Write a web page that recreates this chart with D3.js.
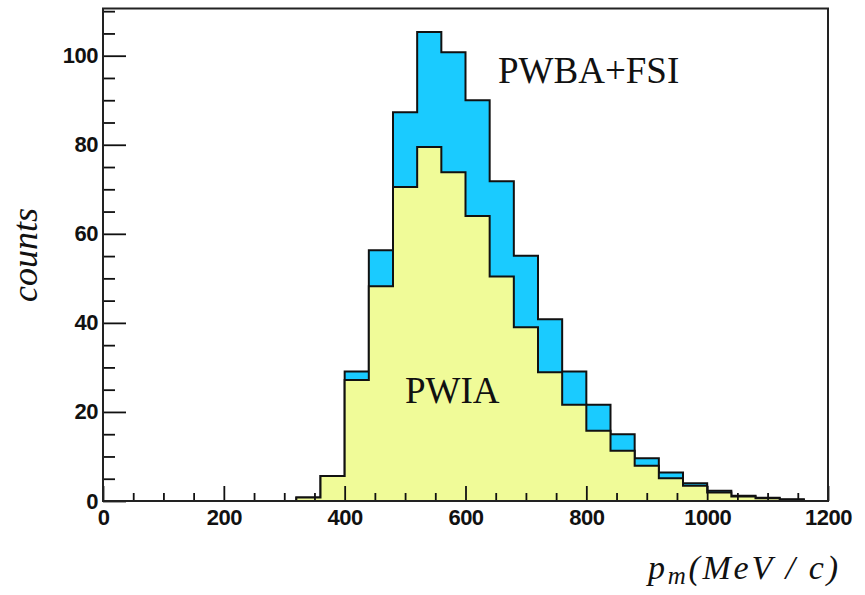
<!DOCTYPE html>
<html>
<head>
<meta charset="utf-8">
<script src="https://cdn.jsdelivr.net/npm/d3@7"></script>
<style>
  html, body { margin: 0; padding: 0; background: #fff; }
  svg { display: block; }
</style>
</head>
<body>
<svg id="chart" width="865" height="595"></svg>
<script>
// ---- data ----
const binEdges = d3.range(0, 1201, 40); // 31 edges, 30 bins of 40 MeV/c
const pwia = [0,0,0,0,0,0,0,0, 0.8, 5.6, 27.2, 48.2, 70.5, 79.5, 73.8, 64.0, 50.4, 39.0, 28.9, 21.6, 15.8, 11.3, 7.9, 5.1, 3.4, 1.9, 1.0, 0.6, 0.3, 0];
const pwbaFsi = [0,0,0,0,0,0,0,0, 0.8, 5.6, 29.1, 56.3, 87.3, 105.3, 100.8, 90.0, 71.8, 55.1, 40.8, 29.1, 21.6, 15.0, 9.6, 6.4, 4.0, 2.3, 1.2, 0.75, 0.4, 0];
const xMajorTicks = [0, 200, 400, 600, 800, 1000, 1200];
const yMajorTicks = [0, 20, 40, 60, 80, 100];
const xDomain = [0, 1200];
const yDomain = [0, 110.6];

// ---- layout ----
const svg = d3.select("#chart");
const L = 103, R = 828, T = 8.5, B = 501;
const x = d3.scaleLinear().domain(xDomain).range([L, R]);
const y = d3.scaleLinear().domain(yDomain).range([B, T]);

const area = d3.area().curve(d3.curveStepAfter)
  .x(d => x(d[0])).y0(y(0)).y1(d => y(d[1]));
const lineLin = d3.line().x(d => x(d[0])).y(d => y(d[1]));

function drawHist(vals, fill) {
  const pts = vals.map((v, i) => [binEdges[i], v]);
  pts.push([binEdges[binEdges.length - 1], vals[vals.length - 1]]);
  svg.append("path").attr("d", area(pts)).attr("fill", fill).attr("stroke", "none");
  const seq = [[binEdges[0], 0]];
  vals.forEach((v, i) => { seq.push([binEdges[i], v]); seq.push([binEdges[i+1], v]); });
  seq.push([binEdges[binEdges.length-1], 0]);
  svg.append("path").attr("d", lineLin(seq)).attr("fill", "none")
    .attr("stroke", "#111").attr("stroke-width", 2).attr("stroke-linejoin", "miter");
}

drawHist(pwbaFsi, "#1acbff");
drawHist(pwia, "#f0fb98");

// ---- axes ----
const tickFont = "'Liberation Sans', Arial, Helvetica, sans-serif";

const yAxis = d3.axisLeft(y).tickValues(yMajorTicks).tickFormat(d3.format("d"))
  .tickSizeInner(-23).tickSizeOuter(0).tickPadding(5);
const gy = svg.append("g").attr("transform", `translate(${L},0)`).call(yAxis);
gy.select(".domain").remove();
gy.selectAll("line").attr("stroke", "#111").attr("stroke-width", 1.8);
gy.selectAll("text").attr("font-family", tickFont).attr("font-weight", "bold")
  .attr("font-size", 22).attr("fill", "#111").attr("letter-spacing", -0.5);

const yMinor = d3.range(0, 111, 5).filter(v => v % 20 !== 0);
const gym = svg.append("g").attr("transform", `translate(${L},0)`)
  .call(d3.axisLeft(y).tickValues(yMinor).tickFormat("").tickSizeInner(-12).tickSizeOuter(0));
gym.select(".domain").remove();
gym.selectAll("line").attr("stroke", "#111").attr("stroke-width", 1.8);

const xAxis = d3.axisBottom(x).tickValues(xMajorTicks).tickFormat(d3.format("d"))
  .tickSizeInner(-15).tickSizeOuter(0).tickPadding(8);
const gx = svg.append("g").attr("transform", `translate(0,${B})`).call(xAxis);
gx.select(".domain").remove();
gx.selectAll("line").attr("stroke", "#111").attr("stroke-width", 1.8);
gx.selectAll("text").attr("font-family", tickFont).attr("font-weight", "bold")
  .attr("font-size", 22).attr("fill", "#111").attr("letter-spacing", -0.5);

const xMinor = d3.range(0, 1201, 50).filter(v => v % 200 !== 0);
const gxm = svg.append("g").attr("transform", `translate(0,${B})`)
  .call(d3.axisBottom(x).tickValues(xMinor).tickFormat("").tickSizeInner(-8).tickSizeOuter(0));
gxm.select(".domain").remove();
gxm.selectAll("line").attr("stroke", "#111").attr("stroke-width", 1.8);

// frame
svg.append("rect").attr("x", L).attr("y", T).attr("width", R - L).attr("height", B - T)
  .attr("fill", "none").attr("stroke", "#222").attr("stroke-width", 2);

// ---- labels ----
const serif = "'Liberation Serif', 'Times New Roman', Times, serif";
svg.append("text").attr("x", 498).attr("y", 82.5).attr("font-family", serif)
  .attr("font-size", 37).attr("fill", "#111").text("PWBA+FSI");
svg.append("text").attr("x", 405).attr("y", 402.5).attr("font-family", serif)
  .attr("font-size", 37).attr("fill", "#111").text("PWIA");

const xl = svg.append("text").attr("x", 648).attr("y", 579).attr("font-family", serif)
  .attr("font-style", "italic").attr("font-size", 34).attr("fill", "#111")
  .attr("textLength", 190).attr("lengthAdjust", "spacing");
xl.append("tspan").text("p");
xl.append("tspan").attr("font-size", 25).attr("dy", 5).text("m");
xl.append("tspan").attr("dy", -5).text("(MeV / c)");

svg.append("text").attr("transform", "translate(37,255) rotate(-90)")
  .attr("text-anchor", "middle").attr("font-family", serif).attr("font-style", "italic")
  .attr("font-size", 36).attr("fill", "#111").text("counts");
</script>
</body>
</html>
